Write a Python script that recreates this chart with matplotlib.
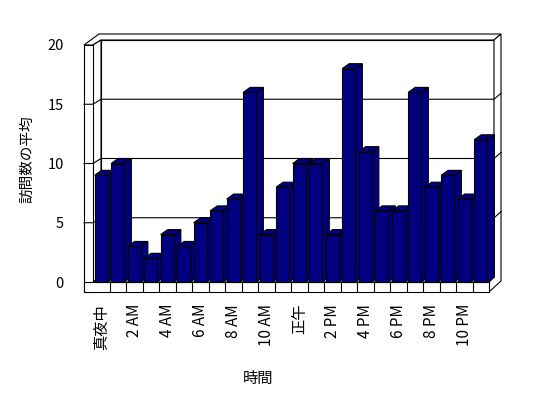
import numpy as np
import matplotlib
matplotlib.use("Agg")
import matplotlib.pyplot as plt
from matplotlib.patches import Polygon, Rectangle

plt.rcParams['font.family'] = ['Noto Sans CJK JP', 'DejaVu Sans']

# data: average visits per hour
hours = ['真夜中', '1 AM', '2 AM', '3 AM', '4 AM', '5 AM', '6 AM', '7 AM', '8 AM', '9 AM',
         '10 AM', '11 AM', '正午', '1 PM', '2 PM', '3 PM', '4 PM', '5 PM', '6 PM', '7 PM',
         '8 PM', '9 PM', '10 PM', '11 PM']
visits = [9, 10, 3, 2, 4, 3, 5, 6, 7, 16, 4, 8, 10, 10, 4, 18, 11, 6, 6, 16, 8, 9, 7, 12]
yticks = [0, 5, 10, 15, 20]

W, H = 548, 398
SX, SY = 16.5, 11.85        # px per category / per unit
X0, Y0 = 93, 282            # pixel of (0, 0)
xlim = (-1.0, 25.5)
ylim = (-1.5, 21.5)

fig = plt.figure(figsize=(W / 100, H / 100), dpi=100)
left = (X0 + xlim[0] * SX) / W
right = (X0 + xlim[1] * SX) / W
bottom = 1 - (Y0 - ylim[0] * SY) / H
top = 1 - (Y0 - ylim[1] * SY) / H
ax = fig.add_axes([left, bottom, right - left, top - bottom])
ax.set_xlim(*xlim)
ax.set_ylim(*ylim)
for s in ax.spines.values():
    s.set_visible(False)

n = len(visits)
ymax = yticks[-1]
# 3d offsets (in data units)
dL = np.array([8 / SX, 5 / SY])
dR = np.array([5 / SX, 5 / SY])
th = np.array([7 / SX, 6 / SY])
bd = np.array([7 / SX, 5 / SY])
wallw = 9 / SX
floorh = 10 / SY
LW = 0.8

def poly(pts, fc='white', z=1):
    ax.add_patch(Polygon(pts, closed=True, facecolor=fc, edgecolor='black', lw=LW, zorder=z))

# back wall
TL = np.array([dL[0], ymax + dL[1]])
TR = np.array([n + dR[0], ymax + dR[1]])
BL = np.array([dL[0], dL[1]])
BR = np.array([n + dR[0], dR[1]])
poly([BL, TL, TR, BR], z=1)
# top strip of left wall + back wall
poly([(-wallw, ymax), (0, ymax), TL, TR, TR + th, np.array([-wallw, ymax]) + dL + th], z=1)
# right side of box
poly([(n, -floorh), np.array([n, -floorh]) + dR + th, TR + th, TR, BR, (n, 0)], z=1)
# left wall inner face and front face
poly([(0, 0), (0, ymax), TL, BL], z=1)
ax.add_patch(Rectangle((-wallw, -floorh), wallw, ymax + floorh, facecolor='white',
                       edgecolor='black', lw=LW, zorder=1))
# floor
poly([(0, 0), (n, 0), BR, BL], z=1)
ax.add_patch(Rectangle((-wallw, -floorh), n + wallw, floorh, facecolor='white',
                       edgecolor='black', lw=LW, zorder=1))
for i in range(1, n):
    ax.plot([i, i], [-floorh, 0], color='black', lw=LW, zorder=2)

# gridlines
for v in yticks[1:-1]:
    ax.plot([-wallw, 0, dL[0], n + dR[0], n + dR[0] + th[0]],
            [v, v, v + dL[1], v + dR[1], v + dR[1] + th[1]], color='black', lw=LW, zorder=2)

# bars (left to right so each bar covers the previous side face)
bw = 0.8
navy = '#000080'
for i, v in enumerate(visits):
    xl = i + 0.5 - bw / 2
    xr = i + 0.5 + bw / 2
    z = 3 + i * 0.01
    poly([(xr, 0), (xr + bd[0], bd[1]), (xr + bd[0], v + bd[1]), (xr, v)], fc=navy, z=z)
    poly([(xl, v), (xr, v), (xr + bd[0], v + bd[1]), (xl + bd[0], v + bd[1])], fc=navy, z=z)
    ax.add_patch(Rectangle((xl, 0), bw, v, facecolor=navy, edgecolor='black', lw=LW, zorder=z))

ax.set_yticks(yticks)
ax.set_yticklabels([str(t) for t in yticks])
pos = np.arange(0, n, 2) + 0.5
ax.set_xticks(pos)
ax.set_xticklabels(hours[::2], rotation=90, va='top', ha='center')
ax.tick_params(axis='y', length=0, pad=9, labelsize=10.5)
ax.tick_params(axis='x', length=0, pad=3, labelsize=11)

fig.text(27 / W, 1 - 159 / H, '訪問数の平均', rotation=90, ha='center', va='center', fontsize=10.5)
fig.text(258 / W, 1 - 378 / H, '時間', ha='center', va='center', fontsize=11)

fig.savefig('out.png', dpi=100)
